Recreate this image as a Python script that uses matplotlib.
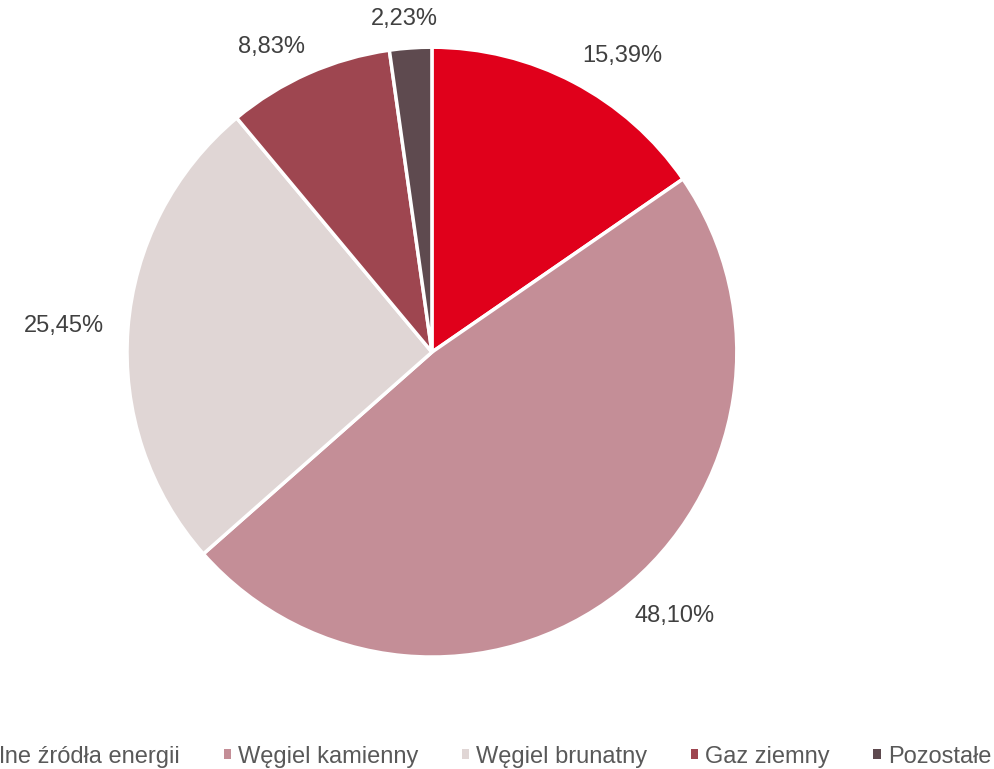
import matplotlib
matplotlib.use("Agg")
import matplotlib.pyplot as plt
from matplotlib.patches import Patch
import numpy as np

plt.rcParams['font.family'] = ['Liberation Sans', 'DejaVu Sans']

categories = ['Odnawialne źródła energii', 'Węgiel kamienny', 'Węgiel brunatny',
              'Gaz ziemny', 'Pozostałe']
shares = [15.39, 48.10, 25.45, 8.83, 2.23]
colors = ['#E0001B', '#C48E97', '#E0D6D5', '#9E4650', '#5E4A4F']

fig = plt.figure(figsize=(9.95, 7.69), dpi=100)
ax = fig.add_axes([0.1276, 0.1456, 0.613, 0.793])

wedges, _ = ax.pie(
    shares,
    colors=colors,
    startangle=90,
    counterclock=False,
    radius=1,
    wedgeprops=dict(edgecolor='white', linewidth=2.5),
)
ax.set_xlim(-1, 1)
ax.set_ylim(-1, 1)
ax.set_aspect('equal')
ax.axis('off')

# labels placed outside the end of each slice (Excel style)
renderer = fig.canvas.get_renderer()
inv = ax.transData.inverted()
for w, val in zip(wedges, shares):
    theta = np.deg2rad((w.theta1 + w.theta2) / 2)
    c, s = np.cos(theta), np.sin(theta)
    t = ax.text(0, 0, f'{val:.2f}%'.replace('.', ','), ha='center', va='center',
                fontsize=17, color='#404040')
    bb = t.get_window_extent(renderer)
    p0 = inv.transform((bb.x0, bb.y0))
    p1 = inv.transform((bb.x1, bb.y1))
    hw, hh = (p1[0] - p0[0]) / 2, (p1[1] - p0[1]) / 2
    r = 1.08
    t.set_position((r * c + hw * np.clip(2 * c, -1, 1),
                    r * s + 0.4 * hh * np.clip(2 * s, -1, 1)))

handles = [Patch(facecolor=c, edgecolor='none') for c in colors]
fig.legend(handles, categories, loc='center right', bbox_to_anchor=(0.996, 0.016),
           ncol=5, frameon=False, fontsize=17, labelcolor='#595959',
           handlelength=0.3, handleheight=0.3, handletextpad=0.3,
           columnspacing=1.85, borderpad=0, borderaxespad=0)

fig.savefig('out.png', dpi=100)
